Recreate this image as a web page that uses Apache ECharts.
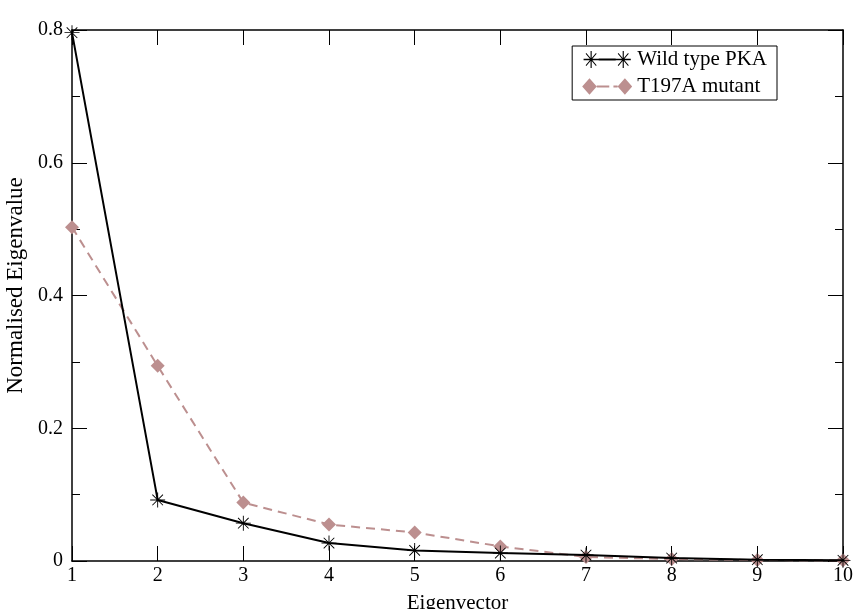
<!DOCTYPE html>
<html>
<head>
<meta charset="utf-8">
<script src="https://cdn.jsdelivr.net/npm/echarts@6/dist/echarts.min.js"></script>
<style>html,body{margin:0;padding:0;background:#fff}#c{width:856px;height:609px}</style>
</head>
<body>
<div id="c"></div>
<script>
const eigenvectors = [1, 2, 3, 4, 5, 6, 7, 8, 9, 10];
const wildType = [0.796, 0.092, 0.057, 0.027, 0.016, 0.012, 0.009, 0.0045, 0.002, 0.001];
const mutant = [0.503, 0.294, 0.088, 0.055, 0.043, 0.022, 0.006, 0.003, 0.0015, 0.001];
const seriesNames = ['Wild type PKA', 'T197A mutant'];
const xTitle = 'Eigenvector';
const yTitle = 'Normalised Eigenvalue';

const FONT = '"Liberation Serif", "DejaVu Serif", serif';
const star = 'path://M0 9.4L20 9.4L20 10.6L0 10.6Z M9.4 0L10.6 0L10.6 20L9.4 20Z M2.5 3.35L3.35 2.5L17.5 16.65L16.65 17.5Z M16.65 2.5L17.5 3.35L3.35 17.5L2.5 16.65Z';
const starLegend = 'path://M0 9.3L16 9.3L16 10.7L0 10.7Z M7.4 1L8.6 1L8.6 19L7.4 19Z M2.2 3.8L2.9 3.1L13.8 16.2L13.1 16.9Z M13.1 3.1L13.8 3.8L2.9 16.9L2.2 16.2Z ' +
  'M16 9L34 9L34 11L16 11Z ' +
  'M34 9.3L50 9.3L50 10.7L34 10.7Z M41.4 1L42.6 1L42.6 19L41.4 19Z M36.2 3.8L36.9 3.1L47.8 16.2L47.1 16.9Z M47.1 3.1L47.8 3.8L36.9 16.9L36.2 16.2Z';
const diamondLegend = 'path://M8 2L15 10L8 18L1 10Z M15 9L27 9L27 11L15 11Z M42 2L49 10L42 18L35 10Z M35 9L31 9L31 11L35 11Z';

const pts = a => a.map((v, i) => [eigenvectors[i], v]);
const chart = echarts.init(document.getElementById('c'), null, {renderer: 'canvas'});
const axisCommon = {
  axisLine: {show: true, onZero: false, lineStyle: {color: '#000', width: 1.5}},
  splitLine: {show: false},
};
chart.setOption({
  animation: false,
  backgroundColor: '#fff',
  grid: {left: 72, right: 13, top: 30, bottom: 48, containLabel: false, outerBoundsMode: 'none'},
  legend: {
    right: 79, top: 46,
    orient: 'vertical',
    backgroundColor: '#fff',
    borderColor: '#000', borderWidth: 1,
    padding: [3, 10, 3, 10],
    itemGap: 6,
    itemWidth: 50, itemHeight: 17,
    textStyle: {fontFamily: FONT, fontSize: 21, color: '#000', lineHeight: 21},
    data: [
      {name: seriesNames[0], icon: starLegend},
      {name: seriesNames[1], icon: diamondLegend}
    ]
  },
  xAxis: [
    Object.assign({
      type: 'value', min: 1, max: 10, interval: 1, position: 'bottom',
      name: xTitle, nameLocation: 'middle', nameGap: 32,
      nameTextStyle: {fontFamily: FONT, fontSize: 21, color: '#000'},
      axisTick: {show: true, inside: true, length: 15, lineStyle: {color: '#000', width: 1}},
      axisLabel: {fontFamily: FONT, fontSize: 20, color: '#000', margin: 5},
    }, axisCommon),
    Object.assign({
      type: 'value', min: 1, max: 10, interval: 1, position: 'top',
      axisTick: {show: true, inside: true, length: 15, lineStyle: {color: '#000', width: 1}},
      axisLabel: {show: false},
    }, axisCommon)
  ],
  yAxis: [
    Object.assign({
      type: 'value', min: 0, max: 0.8, interval: 0.2, position: 'left',
      name: yTitle, nameLocation: 'middle', nameGap: 44,
      nameTextStyle: {fontFamily: FONT, fontSize: 23, color: '#000', padding: [0, 0, 0, 20]},
      axisTick: {show: true, inside: true, length: 15, lineStyle: {color: '#000', width: 1}},
      minorTick: {show: true, splitNumber: 2, length: 8, lineStyle: {color: '#000', width: 1}},
      axisLabel: {fontFamily: FONT, fontSize: 20, color: '#000', margin: 9,
        formatter: v => (v === 0 ? '0' : String(+v.toFixed(1)))},
    }, axisCommon),
    Object.assign({
      type: 'value', min: 0, max: 0.8, interval: 0.2, position: 'right',
      axisTick: {show: true, inside: true, length: 15, lineStyle: {color: '#000', width: 1}},
      minorTick: {show: true, splitNumber: 2, length: 8, lineStyle: {color: '#000', width: 1}},
      axisLabel: {show: false},
    }, axisCommon)
  ],
  series: [
    {
      name: seriesNames[1], type: 'line', data: pts(mutant),
      xAxisIndex: 0, yAxisIndex: 0,
      symbol: 'diamond', symbolSize: [14, 14],
      itemStyle: {color: '#bc8f8f'},
      lineStyle: {color: '#bc8f8f', width: 2, type: [9, 6]},
      z: 2
    },
    {
      name: seriesNames[0], type: 'line', data: pts(wildType),
      xAxisIndex: 0, yAxisIndex: 0,
      symbol: star, symbolSize: 15,
      itemStyle: {color: '#000'},
      lineStyle: {color: '#000', width: 2},
      z: 3
    }
  ]
});
</script>
</body>
</html>
